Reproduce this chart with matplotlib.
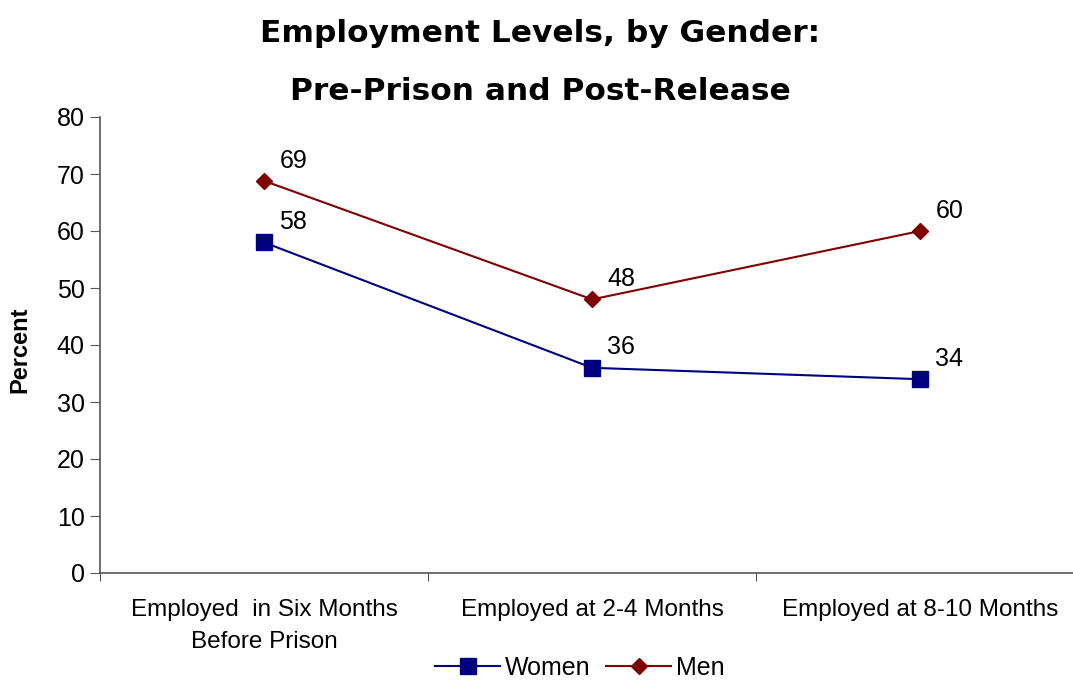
import matplotlib
matplotlib.use("Agg")
import matplotlib.pyplot as plt

categories = ["Employed  in Six Months\nBefore Prison", "Employed at 2-4 Months", "Employed at 8-10 Months"]
women = [58, 36, 34]
men = [68.8, 48, 60]
women_labels = ["58", "36", "34"]
men_labels = ["69", "48", "60"]
yticks = [0, 10, 20, 30, 40, 50, 60, 70, 80]

plt.rcParams['font.family'] = ['Liberation Sans', 'DejaVu Sans']

fig = plt.figure(figsize=(10.73, 6.81), dpi=100)
ax = fig.add_axes([100/1073, 108/681, 1 - 100/1073, 456/681])

x = list(range(len(categories)))
w_col = "#000080"
m_col = "#800000"
ax.plot(x, women, color=w_col, lw=1.5, marker="s", ms=12, label="Women")
ax.plot(x, men, color=m_col, lw=1.5, marker="D", ms=8.5, label="Men")

for xi, v, t in zip(x, women, women_labels):
    ax.annotate(t, (xi, v), xytext=(11, 6), textcoords="offset points",
                fontsize=18, ha="left", va="bottom")
for xi, v, t in zip(x, men, men_labels):
    ax.annotate(t, (xi, v), xytext=(11, 6), textcoords="offset points",
                fontsize=18, ha="left", va="bottom")

ax.set_xlim(-0.5, 2.466)
ax.set_ylim(0, 80)
ax.set_yticks(yticks)
ax.set_xticks([-0.5, 0.5, 1.5])
ax.set_xticklabels([])
ax.set_xticks(x, minor=True)
ax.set_xticklabels(categories, minor=True, fontsize=17.5, linespacing=1.55)
ax.tick_params(axis="x", which="minor", length=0, pad=19)
ax.tick_params(axis="x", which="major", length=6, direction="out", color="#555555")
ax.tick_params(axis="y", labelsize=18, length=7, color="#555555", pad=4)
for s in ["top", "right"]:
    ax.spines[s].set_visible(False)
for s in ["left", "bottom"]:
    ax.spines[s].set_color("#555555")
    ax.spines[s].set_linewidth(1.2)

fig.text(20/1073, 1 - 350/681, "Percent",
         rotation=90, fontsize=17, fontweight="bold", ha="center", va="center")

fig.text(540/1073, 1 - 33/681, "Employment Levels, by Gender:", fontsize=22.5,
         fontweight="bold", ha="center", va="center", family=["DejaVu Sans"])
fig.text(540/1073, 1 - 92/681, "Pre-Prison and Post-Release", fontsize=22.5,
         fontweight="bold", ha="center", va="center", family=["DejaVu Sans"])

fig.legend(loc="center", bbox_to_anchor=(580/1073, 1 - 668/681), ncol=2,
           frameon=False, fontsize=18, handlelength=2.6, columnspacing=0.6,
           handletextpad=0.2)

fig.savefig("out.png", dpi=100)
